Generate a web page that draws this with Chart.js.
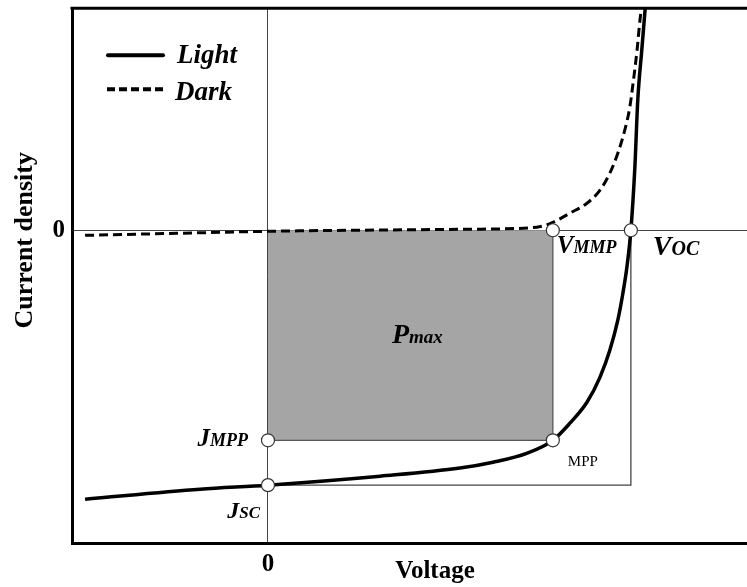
<!DOCTYPE html>
<html>
<head>
<meta charset="utf-8">
<script src="https://cdn.jsdelivr.net/npm/chart.js@4.4.1/dist/chart.umd.min.js"></script>
<style>
  html, body { margin: 0; padding: 0; background: #fff; }
  #wrap { width: 747px; height: 587px; }
</style>
</head>
<body>
<div id="wrap"><canvas id="jvChart"></canvas></div>
<script>
// J-V curve of a solar cell, arbitrary units (Voc = 1, Jsc = -1)
const lightV = [-0.504, -0.187, 0, 0.309, 0.529, 0.620, 0.713, 0.785, 0.832, 0.879, 0.915, 0.942, 0.964, 0.978, 0.989, 1.0, 1.011, 1.019, 1.030, 1.039, 1.042];
const lightJ = [-1.055, -1.016, -1.0, -0.965, -0.933, -0.910, -0.875, -0.824, -0.757, -0.675, -0.576, -0.471, -0.353, -0.247, -0.145, 0, 0.247, 0.510, 0.706, 0.863, 0.92];

const darkV = [-0.504, -0.25, 0, 0.556, 0.741, 0.785, 0.832, 0.879, 0.915, 0.942, 0.964, 0.983, 0.997, 1.006, 1.017, 1.025, 1.030];
const darkJ = [-0.020, -0.012, -0.004, 0.004, 0.012, 0.031, 0.067, 0.106, 0.157, 0.224, 0.302, 0.392, 0.482, 0.576, 0.706, 0.824, 0.88];

const voc = 1.0;
const vmpp = 0.785;
const jsc = -1.0;
const jmpp = -0.824;

const xRange = [-0.54, 1.32];
const yRange = [-1.227, 0.871];
const tickValues = [0];
const xTitle = 'Voltage';
const yTitle = 'Current density';

const serif = '"Liberation Serif", "Times New Roman", serif';

function toPoints(xs, ys) {
    return xs.map((v, i) => ({ x: v, y: ys[i] }));
}

// main letter + small caps "subscript" on the same baseline
function subLabel(ctx, main, sub, x, y, size, subSize, align) {
    ctx.font = 'italic bold ' + size + 'px ' + serif;
    const w1 = ctx.measureText(main).width;
    ctx.font = 'italic bold ' + subSize + 'px ' + serif;
    const w2 = ctx.measureText(sub).width;
    let left = x;
    if (align === 'right') left = x - w1 - w2;
    if (align === 'center') left = x - (w1 + w2) / 2;
    ctx.textAlign = 'left';
    ctx.textBaseline = 'alphabetic';
    ctx.font = 'italic bold ' + size + 'px ' + serif;
    ctx.fillText(main, left, y);
    ctx.font = 'italic bold ' + subSize + 'px ' + serif;
    ctx.fillText(sub, left + w1, y);
}

const annotate = {
    id: 'annotate',
    afterDatasetsDraw(chart) {
        const { ctx, chartArea: a, scales: { x, y } } = chart;
        ctx.save();
        ctx.fillStyle = '#000';

        // top frame line
        ctx.strokeStyle = '#000';
        ctx.lineWidth = 3;
        ctx.beginPath();
        ctx.moveTo(a.left - 1.5, a.top);
        ctx.lineTo(a.right, a.top);
        ctx.stroke();

        // legend
        ctx.lineCap = 'round';
        ctx.lineWidth = 4;
        ctx.beginPath();
        ctx.moveTo(a.left + 36, a.top + 47);
        ctx.lineTo(a.left + 91, a.top + 47);
        ctx.stroke();
        ctx.lineCap = 'butt';
        ctx.setLineDash([8, 4]);
        ctx.beginPath();
        ctx.moveTo(a.left + 35, a.top + 81);
        ctx.lineTo(a.left + 93, a.top + 81);
        ctx.stroke();
        ctx.setLineDash([]);
        ctx.font = 'italic bold 27px ' + serif;
        ctx.textAlign = 'left';
        ctx.textBaseline = 'alphabetic';
        ctx.fillText('Light', a.left + 105, a.top + 55);
        ctx.fillText('Dark', a.left + 103, a.top + 92);

        const x0 = x.getPixelForValue(0);
        const xm = x.getPixelForValue(vmpp);
        const xo = x.getPixelForValue(voc);
        const y0 = y.getPixelForValue(0);
        const ym = y.getPixelForValue(jmpp);
        const ys = y.getPixelForValue(jsc);

        subLabel(ctx, 'J', 'MPP', x0 - 20, ym + 6, 25, 18, 'right');
        subLabel(ctx, 'J', 'SC', x0 - 8, ys + 33, 24, 17, 'right');
        subLabel(ctx, 'V', 'MMP', xm + 4, y0 + 23, 25, 18, 'left');
        subLabel(ctx, 'V', 'OC', xo + 22, y0 + 25, 28, 20, 'left');
        subLabel(ctx, 'P', 'max', (x0 + xm) / 2 + 7, (y0 + ym) / 2 + 8, 28, 19, 'center');

        ctx.font = '15px ' + serif;
        ctx.fillText('MPP', xm + 15, ym + 26);

        // axis titles (placed off-centre as in the original figure)
        ctx.font = 'bold 25px ' + serif;
        ctx.textAlign = 'center';
        ctx.fillText(xTitle, x0 + 167, a.bottom + 35);
        ctx.save();
        ctx.translate(a.left - 40, y0 + 10);
        ctx.rotate(-Math.PI / 2);
        ctx.font = 'bold 26px ' + serif;
        ctx.fillText(yTitle, 0, 0);
        ctx.restore();

        ctx.restore();
    }
};

const markerPoints = [
    { x: 0, y: jmpp },
    { x: 0, y: jsc },
    { x: vmpp, y: jmpp },
    { x: vmpp, y: 0 },
    { x: voc, y: 0 }
];

const ctx = document.getElementById('jvChart').getContext('2d');
const jvChart = new Chart(ctx, {
    type: 'line',
    data: {
        datasets: [
            {
                label: 'Points',
                data: markerPoints,
                showLine: false,
                pointRadius: 6.5,
                pointBackgroundColor: '#fff',
                pointBorderColor: '#333',
                pointBorderWidth: 1.2
            },
            {
                label: 'Light',
                data: toPoints(lightV, lightJ),
                borderColor: '#000',
                borderWidth: 3.5,
                pointRadius: 0,
                cubicInterpolationMode: 'monotone'
            },
            {
                label: 'Dark',
                data: toPoints(darkV, darkJ),
                borderColor: '#000',
                borderWidth: 3,
                borderDash: [9, 5],
                pointRadius: 0,
                cubicInterpolationMode: 'monotone'
            },
            {
                label: 'Jsc-Voc box',
                data: [{ x: 0, y: jsc }, { x: voc, y: jsc }, { x: voc, y: 0 }],
                borderColor: '#444',
                borderWidth: 1.3,
                pointRadius: 0,
                tension: 0
            },
            {
                label: 'Pmax',
                data: [{ x: 0, y: jmpp }, { x: vmpp, y: jmpp }, { x: vmpp, y: 0 }],
                borderColor: '#555',
                borderWidth: 1.3,
                backgroundColor: '#a5a5a5',
                fill: 'origin',
                pointRadius: 0,
                tension: 0
            }
        ]
    },
    options: {
        responsive: true,
        maintainAspectRatio: false,
        animation: false,
        layout: { autoPadding: false, padding: { top: 8, right: 0, left: 45.5, bottom: 0 } },
        scales: {
            x: {
                type: 'linear',
                min: xRange[0],
                max: xRange[1],
                afterBuildTicks: (scale) => { scale.ticks = tickValues.map(v => ({ value: v })); },
                ticks: {
                    color: '#000',
                    padding: 7,
                    font: { family: serif, size: 25, weight: 'bold' }
                },
                grid: { color: '#444', lineWidth: 1, drawTicks: false },
                border: { color: '#000', width: 3 }
            },
            y: {
                min: yRange[0],
                max: yRange[1],
                afterBuildTicks: (scale) => { scale.ticks = tickValues.map(v => ({ value: v })); },
                ticks: {
                    color: '#000',
                    padding: 7,
                    font: { family: serif, size: 25, weight: 'bold', lineHeight: 0.1 }
                },
                grid: { color: '#444', lineWidth: 1, drawTicks: false },
                border: { color: '#000', width: 3 }
            }
        },
        plugins: {
            legend: { display: false },
            tooltip: { enabled: false }
        }
    },
    plugins: [annotate]
});
</script>
</body>
</html>
